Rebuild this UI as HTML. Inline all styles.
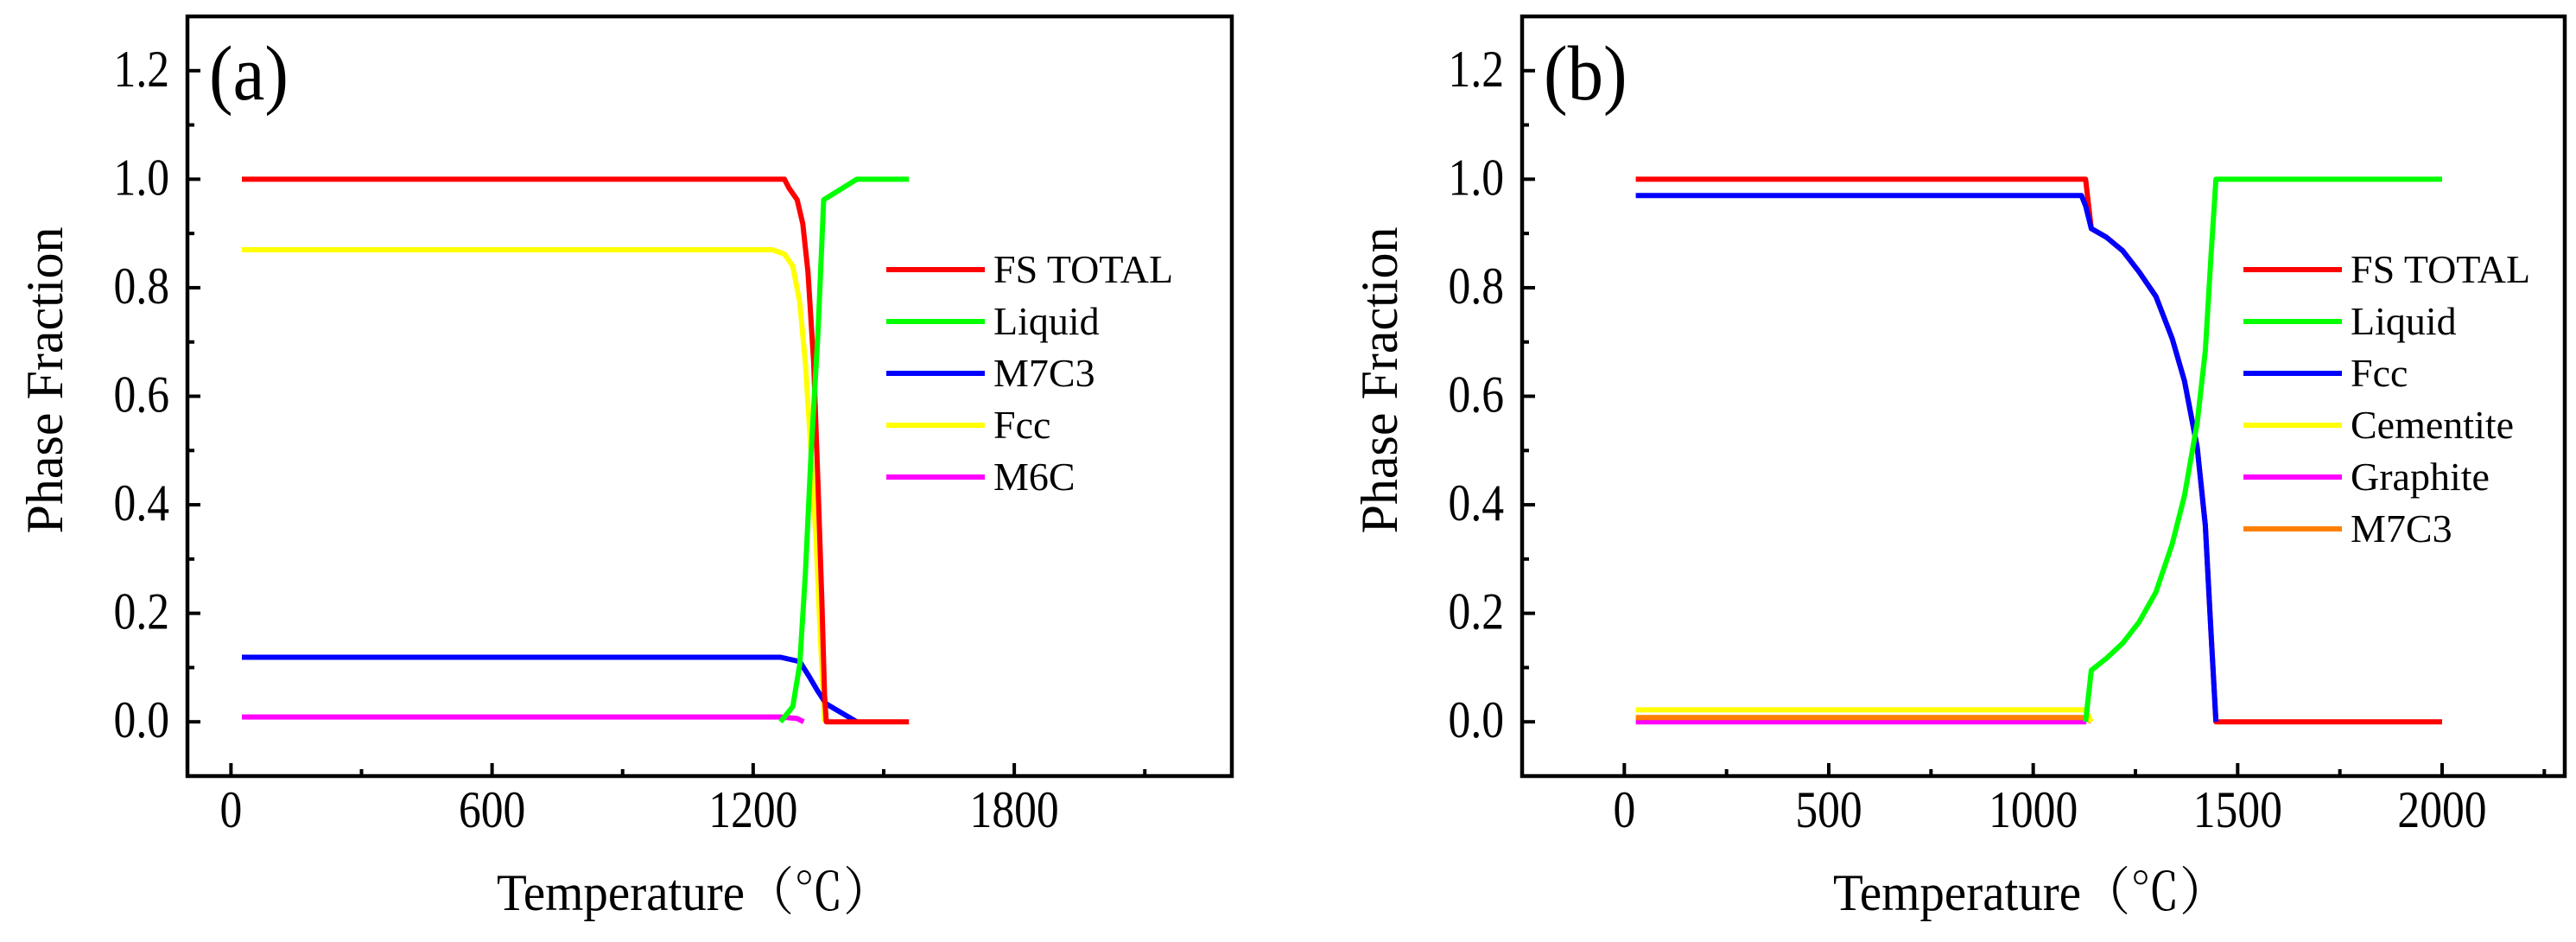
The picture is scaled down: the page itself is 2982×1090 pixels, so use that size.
<!DOCTYPE html>
<html><head><meta charset="utf-8"><style>
html,body{margin:0;padding:0;background:#fff;}
svg{display:block;}
text{font-family:"Liberation Serif","Noto Serif CJK SC",serif;fill:#000;}
</style></head><body>
<svg id="chart" xmlns="http://www.w3.org/2000/svg" width="2982" height="1090" viewBox="0 0 2982 1090"></svg>
<script>
// ---- Panel (a) data ----
const aFsT = [25,1272,1282,1301,1314,1326,1339,1349,1358,1364,1368,1444,1558];
const aFsV = [1,1,0.984,0.962,0.918,0.829,0.662,0.439,0.217,0.05,0,0,0];
const aLiqT = [1263,1291,1307,1320,1333,1349,1362,1438,1558];
const aLiqV = [0,0.028,0.106,0.273,0.495,0.717,0.962,1,1];
const aM7T = [25,1263,1307,1329,1349,1368,1438];
const aM7V = [0.119,0.119,0.111,0.083,0.056,0.033,0];
const aFccT = [25,1244,1272,1291,1307,1320,1333,1345,1354,1364];
const aFccV = [0.87,0.87,0.862,0.84,0.773,0.662,0.495,0.328,0.161,0];
const aM6T = [25,1263,1301,1316];
const aM6V = [0.009,0.009,0.006,0];
const aXTicks = [0,600,1200,1800];
const aXMinor = [300,900,1500,2100];
// ---- Panel (b) data ----
const bFsT = [28,1128,1142,1179,1219,1259,1300,1340,1370,1401,1421,1435,1447,2000];
const bFsV = [1,1,0.909,0.893,0.868,0.829,0.784,0.706,0.628,0.506,0.362,0.161,0,0];
const bLiqT = [1128,1142,1179,1219,1259,1300,1340,1370,1401,1421,1435,1447,2000];
const bLiqV = [0,0.095,0.117,0.145,0.184,0.239,0.328,0.417,0.551,0.684,0.862,1,1];
const bFccT = [28,1118,1128,1142,1179,1219,1259,1300,1340,1370,1401,1421,1435,1447];
const bFccV = [0.97,0.97,0.951,0.909,0.893,0.868,0.829,0.784,0.706,0.628,0.506,0.362,0.161,0];
const bCemT = [28,1128,1142];
const bCemV = [0.022,0.022,0];
const bGraT = [28,1130];
const bGraV = [0,0];
const bM7T = [28,1128,1142];
const bM7V = [0.008,0.008,0];
const bXTicks = [0,500,1000,1500,2000];
const bXMinor = [250,750,1250,1750,2250];
const yTicks = [0,0.2,0.4,0.6,0.8,1.0,1.2];
const yMinor = [-0.1,0.1,0.3,0.5,0.7,0.9,1.1];
const legendA = ['FS TOTAL','Liquid','M7C3','Fcc','M6C'];
const legendB = ['FS TOTAL','Liquid','Fcc','Cementite','Graphite','M7C3'];

const NS = "http://www.w3.org/2000/svg";
const svg = document.getElementById('chart');
function mk(tag, attrs, parent){const e=document.createElementNS(NS,tag);for(const k in attrs)e.setAttribute(k,attrs[k]);(parent||svg).appendChild(e);return e;}
function txt(parent,x,y,size,anchor,sx,str,extra){
  const t=mk('text',{x:0,y:0,'font-size':size,'text-anchor':anchor,transform:'translate('+x+','+y+')'+(extra||'')+' scale('+sx+',1)'},parent);
  t.textContent=str;return t;
}

function panel(cfg){
  const g = mk('g',{});
  
  
  const L=cfg.left,R=cfg.right,T=19,B=898;
  const xs=v=>L+(v-cfg.xmin)/(cfg.xmax-cfg.xmin)*(R-L);
  const ys=v=>B-(v-(-0.1))/(1.4)*(B-T);
  cfg.series.forEach(s=>{
    const d=s.t.map((t,i)=>(i?'L':'M')+xs(t).toFixed(1)+' '+ys(s.v[i]).toFixed(1)).join(' ');
    const p=mk('path',{d:d,fill:'none',stroke:s.c,'stroke-width':6,'stroke-linejoin':'round'},g);
    
    
  });
  const f=mk('rect',{x:L,y:T,width:R-L,height:B-T,fill:'none',stroke:'#000','stroke-width':4.5},g);
  
  
  yTicks.forEach(v=>{
    mk('line',{x1:L,x2:L+15,y1:ys(v),y2:ys(v),stroke:'#000','stroke-width':4},g);
    const t=txt(g,cfg.ylabX,ys(v)+18,60,'end',0.86,v.toFixed(1));
    
    
  });
  yMinor.forEach(v=>mk('line',{x1:L,x2:L+8,y1:ys(v),y2:ys(v),stroke:'#000','stroke-width':4},g));
  cfg.xt.forEach(v=>{
    mk('line',{x1:xs(v),x2:xs(v),y1:B,y2:B-15,stroke:'#000','stroke-width':4},g);
    const t=txt(g,xs(v),957,60,'middle',0.86,String(v));
    
    
  });
  cfg.xm.forEach(v=>mk('line',{x1:xs(v),x2:xs(v),y1:B,y2:B-8,stroke:'#000','stroke-width':4},g));
  const xt=txt(g,cfg.xTitleX,1053,60,'middle',0.95,'Temperature（℃）');
  
  
  const yt=txt(g,L-145,440,60,'middle',1,'Phase Fraction',' rotate(-90)');
  
  
  const pl=txt(g,L+25,115,90,'start',0.92,cfg.label);
  
  
  cfg.legend.forEach((name,i)=>{
    const s=cfg.series.find(q=>q.name===name);
    const y=312+i*60;
    const lg=mk('g',{},g);
    
    
    mk('line',{x1:cfg.legX,x2:cfg.legX+114,y1:y,y2:y,stroke:s.c,'stroke-width':6},lg);
    const t=mk('text',{x:cfg.legX+124,y:y+15,'font-size':46},lg);
    t.textContent=name;
  });
}

panel({id:'a',label:'(a)',left:217,right:1426,xmin:-100,xmax:2300,ylabX:196,xTitleX:804,legX:1026,
  xt:aXTicks,xm:aXMinor,legend:legendA,
  series:[
    {key:'fcc',name:'Fcc',t:aFccT,v:aFccV,c:'#ffff00'},
    {key:'m6c',name:'M6C',t:aM6T,v:aM6V,c:'#ff00ff'},
    {key:'m7c3',name:'M7C3',t:aM7T,v:aM7V,c:'#0000ff'},
    {key:'fs-total',name:'FS TOTAL',t:aFsT,v:aFsV,c:'#ff0000'},
    {key:'liquid',name:'Liquid',t:aLiqT,v:aLiqV,c:'#00ff00'}
  ]});
panel({id:'b',label:'(b)',left:1762,right:2969,xmin:-250,xmax:2300,ylabX:1741,xTitleX:2351,legX:2597,
  xt:bXTicks,xm:bXMinor,legend:legendB,
  series:[
    {key:'fs-total',name:'FS TOTAL',t:bFsT,v:bFsV,c:'#ff0000'},
    {key:'graphite',name:'Graphite',t:bGraT,v:bGraV,c:'#ff00ff'},
    {key:'m7c3',name:'M7C3',t:bM7T,v:bM7V,c:'#ff8000'},
    {key:'cementite',name:'Cementite',t:bCemT,v:bCemV,c:'#ffff00'},
    {key:'fcc',name:'Fcc',t:bFccT,v:bFccV,c:'#0000ff'},
    {key:'liquid',name:'Liquid',t:bLiqT,v:bLiqV,c:'#00ff00'}
  ]});
</script>
</body></html>
